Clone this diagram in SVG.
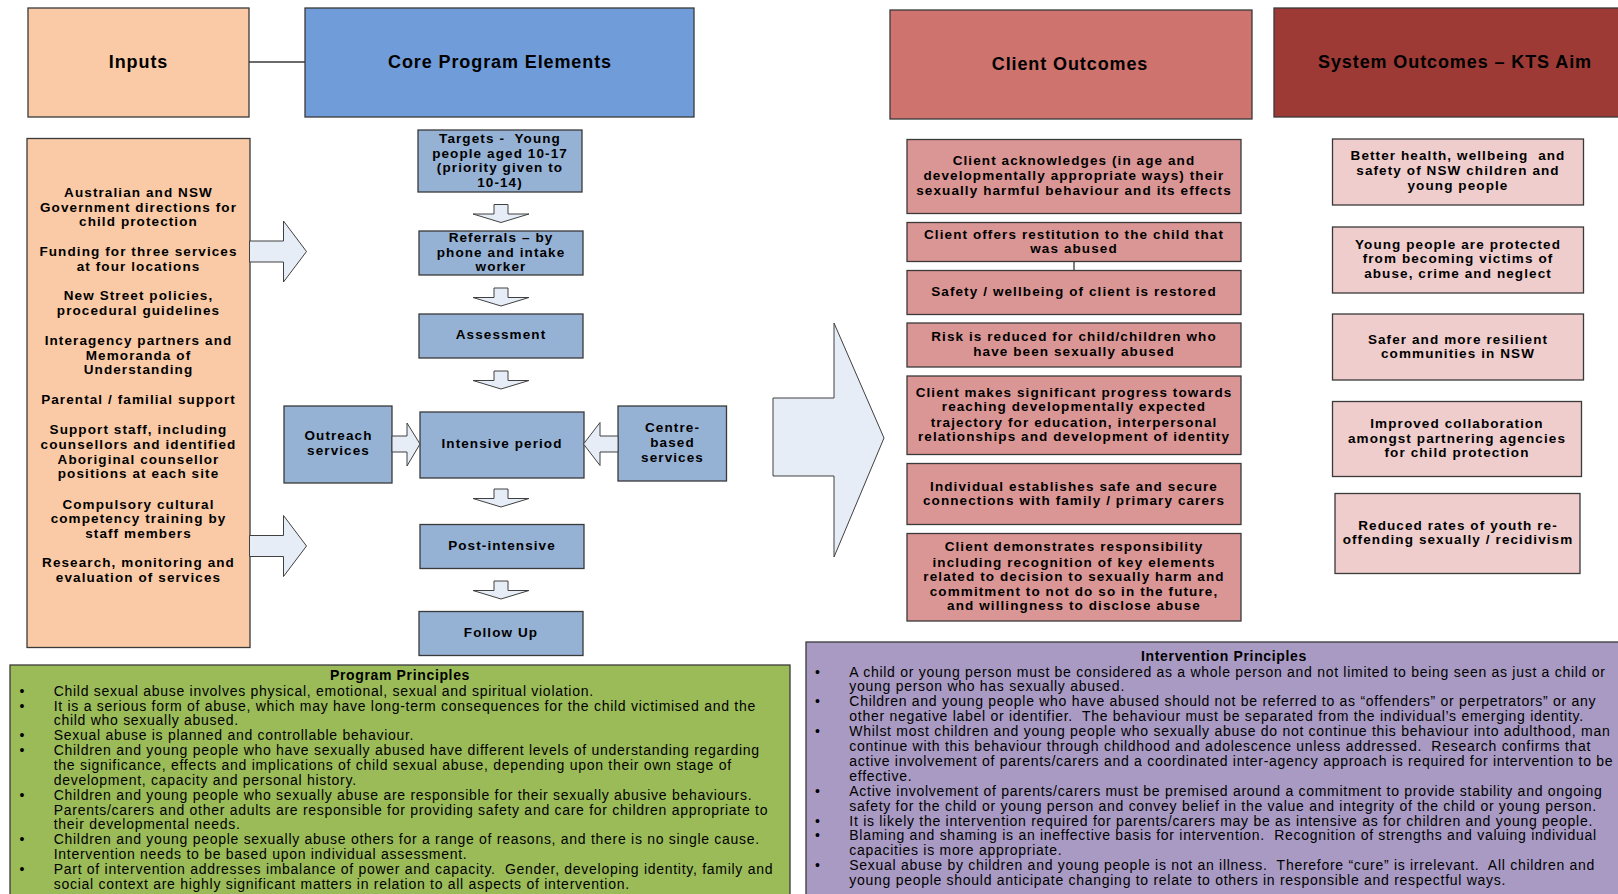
<svg xmlns="http://www.w3.org/2000/svg" width="1618" height="894" viewBox="0 0 1618 894">
<style>
text{font-family:"Liberation Sans",Arial,sans-serif;fill:#000}
.hdr{font-size:18px;font-weight:bold;letter-spacing:0.9px;text-anchor:middle}
.b{font-size:13.5px;font-weight:bold;letter-spacing:1.1px;text-anchor:middle}
.ttl{font-size:14px;font-weight:bold;letter-spacing:0.65px;text-anchor:middle}
.body{font-size:14px;letter-spacing:0.72px;white-space:pre}
.box{stroke:#3a3a3a;stroke-width:1.3}
.inp{fill:#F9CAA5}
.core{fill:#709DD9}
.cb{fill:#95B1D3}
.co{fill:#CE736D}
.cob{fill:#DA9694}
.so{fill:#9D3A36}
.sob{fill:#EECDCC}
.pp{fill:#9BBB59}
.ip{fill:#A89AC2}
.arr{fill:#E6EDF7;stroke:#404040;stroke-width:1}
.ln{stroke:#3a3a3a;stroke-width:1.3;fill:none}
</style>
<defs>
<polygon id="dArrow" class="arr" points="-7,0 7,0 7,9.5 28,9.5 0,18 -28,9.5 -7,9.5"/>
<polygon id="rArrow" class="arr" points="0,20 34,20 34,0 57,30.5 34,61 34,41 0,41"/>
</defs>

<g id="inputs-header">
<rect class="box inp" x="28" y="8" width="221" height="109"/>
<text class="hdr" x="138.5" y="68">Inputs</text>
</g>
<g id="core-header">
<rect class="box core" x="305" y="8" width="389" height="109"/>
<text class="hdr" x="500" y="68">Core Program Elements</text>
</g>
<g id="client-header">
<rect class="box co" x="890" y="10" width="362" height="109"/>
<text class="hdr" x="1070" y="70">Client Outcomes</text>
</g>
<g id="system-header">
<rect class="box so" x="1274" y="8" width="345" height="109"/>
<text class="hdr" x="1455" y="68">System Outcomes – KTS Aim</text>
</g>

<g id="inputs">
<rect class="box inp" x="27" y="138.5" width="223" height="509"/>
<text class="b" x="138.5" y="196.5">Australian and NSW</text>
<text class="b" x="138.5" y="211.5">Government directions for</text>
<text class="b" x="138.5" y="226">child protection</text>
<text class="b" x="138.5" y="255.5">Funding for three services</text>
<text class="b" x="138.5" y="270.5">at four locations</text>
<text class="b" x="138.5" y="300">New Street policies,</text>
<text class="b" x="138.5" y="315">procedural guidelines</text>
<text class="b" x="138.5" y="345">Interagency partners and</text>
<text class="b" x="138.5" y="359.5">Memoranda of</text>
<text class="b" x="138.5" y="374">Understanding</text>
<text class="b" x="138.5" y="404">Parental / familial support</text>
<text class="b" x="138.5" y="434">Support staff, including</text>
<text class="b" x="138.5" y="448.5">counsellors and identified</text>
<text class="b" x="138.5" y="463.5">Aboriginal counsellor</text>
<text class="b" x="138.5" y="478">positions at each site</text>
<text class="b" x="138.5" y="508.5">Compulsory cultural</text>
<text class="b" x="138.5" y="523">competency training by</text>
<text class="b" x="138.5" y="538">staff members</text>
<text class="b" x="138.5" y="567">Research, monitoring and</text>
<text class="b" x="138.5" y="582">evaluation of services</text>
</g>

<g id="targets">
<rect class="box cb" x="418" y="130" width="164" height="62"/>
<text class="b" x="500" y="142.8" style="white-space:pre">Targets -  Young</text>
<text class="b" x="500" y="157.6">people aged 10-17</text>
<text class="b" x="500" y="172.4">(priority given to</text>
<text class="b" x="500" y="186.8">10-14)</text>
</g>
<g id="referrals">
<rect class="box cb" x="419" y="231" width="164" height="44"/>
<text class="b" x="501" y="242">Referrals – by</text>
<text class="b" x="501" y="256.7">phone and intake</text>
<text class="b" x="501" y="271.1">worker</text>
</g>
<g id="assessment">
<rect class="box cb" x="419" y="314" width="164" height="44"/>
<text class="b" x="501" y="339.2">Assessment</text>
</g>
<g id="intensive">
<rect class="box cb" x="420" y="412" width="164" height="66"/>
<text class="b" x="502" y="448.3">Intensive period</text>
</g>
<g id="outreach">
<rect class="box cb" x="284" y="406" width="108" height="77"/>
<text class="b" x="338.5" y="440.3">Outreach</text>
<text class="b" x="338.5" y="455.1">services</text>
</g>
<g id="centre">
<rect class="box cb" x="618" y="406" width="108.5" height="75"/>
<text class="b" x="672.5" y="432.1">Centre-</text>
<text class="b" x="672.5" y="447.2">based</text>
<text class="b" x="672.5" y="462">services</text>
</g>
<g id="post-intensive">
<rect class="box cb" x="420" y="524.5" width="164" height="44"/>
<text class="b" x="502" y="550.1">Post-intensive</text>
</g>
<g id="follow-up">
<rect class="box cb" x="419" y="611.5" width="164" height="44"/>
<text class="b" x="501" y="636.8">Follow Up</text>
</g>

<g id="client-outcomes">
<g id="co1"><rect class="box cob" x="907" y="139.5" width="334" height="74"/>
<text class="b" x="1074" y="164.5">Client acknowledges (in age and</text>
<text class="b" x="1074" y="179.5">developmentally appropriate ways) their</text>
<text class="b" x="1074" y="195.2">sexually harmful behaviour and its effects</text></g>
<g id="co2"><rect class="box cob" x="907" y="222.5" width="334" height="39"/>
<text class="b" x="1074" y="238.5">Client offers restitution to the child that</text>
<text class="b" x="1074" y="252.8">was abused</text></g>
<g id="co3"><rect class="box cob" x="907" y="270.5" width="334" height="44"/>
<text class="b" x="1074" y="296.2">Safety / wellbeing of client is restored</text></g>
<g id="co4"><rect class="box cob" x="907" y="323" width="334" height="44"/>
<text class="b" x="1074" y="341.2">Risk is reduced for child/children who</text>
<text class="b" x="1074" y="356.2">have been sexually abused</text></g>
<g id="co5"><rect class="box cob" x="907" y="376" width="334" height="78.5"/>
<text class="b" x="1074" y="396.5">Client makes significant progress towards</text>
<text class="b" x="1074" y="411.2">reaching developmentally expected</text>
<text class="b" x="1074" y="426.5">trajectory for education, interpersonal</text>
<text class="b" x="1074" y="440.8">relationships and development of identity</text></g>
<g id="co6"><rect class="box cob" x="907" y="463.5" width="334" height="61"/>
<text class="b" x="1074" y="490.5">Individual establishes safe and secure</text>
<text class="b" x="1074" y="504.8">connections with family / primary carers</text></g>
<g id="co7"><rect class="box cob" x="907" y="533.5" width="334" height="87.5"/>
<text class="b" x="1074" y="551.2">Client demonstrates responsibility</text>
<text class="b" x="1074" y="566.5">including recognition of key elements</text>
<text class="b" x="1074" y="580.5">related to decision to sexually harm and</text>
<text class="b" x="1074" y="595.5">commitment to not do so in the future,</text>
<text class="b" x="1074" y="610.2">and willingness to disclose abuse</text></g>
</g>

<g id="system-outcomes">
<g id="so1"><rect class="box sob" x="1332.5" y="139" width="251" height="66"/>
<text class="b" x="1458" y="160.2" style="white-space:pre">Better health, wellbeing  and</text>
<text class="b" x="1458" y="175.2">safety of NSW children and</text>
<text class="b" x="1458" y="190.2">young people</text></g>
<g id="so2"><rect class="box sob" x="1332.5" y="227" width="251" height="66"/>
<text class="b" x="1458" y="248.5">Young people are protected</text>
<text class="b" x="1458" y="263.2">from becoming victims of</text>
<text class="b" x="1458" y="278.2">abuse, crime and neglect</text></g>
<g id="so3"><rect class="box sob" x="1332.5" y="314" width="251" height="66"/>
<text class="b" x="1458" y="343.5">Safer and more resilient</text>
<text class="b" x="1458" y="357.8">communities in NSW</text></g>
<g id="so4"><rect class="box sob" x="1332.5" y="401.5" width="249" height="75"/>
<text class="b" x="1457" y="428.2">Improved collaboration</text>
<text class="b" x="1457" y="442.8">amongst partnering agencies</text>
<text class="b" x="1457" y="457.2">for child protection</text></g>
<g id="so5"><rect class="box sob" x="1335" y="493.5" width="245" height="80"/>
<text class="b" x="1458" y="529.5">Reduced rates of youth re-</text>
<text class="b" x="1458" y="543.8">offending sexually / recidivism</text></g>
</g>

<g id="connectors">
<line class="ln" x1="249" y1="62" x2="305" y2="62"/>
<line class="ln" x1="1074" y1="261.5" x2="1074" y2="270.5"/>
<use href="#rArrow" x="249.5" y="221"/>
<use href="#rArrow" x="249.5" y="515.5"/>
<use href="#dArrow" x="501" y="204.5"/>
<use href="#dArrow" x="501" y="288"/>
<use href="#dArrow" x="501" y="371"/>
<use href="#dArrow" x="501" y="489"/>
<use href="#dArrow" x="501" y="581"/>
<polygon class="arr" points="392,436 407,436 407,423 420,444 407,466 407,452 392,452"/>
<polygon class="arr" points="618,436 600,436 600,422.5 583.5,444 600,465.5 600,452 618,452"/>
<polygon class="arr" points="773,398 834,398 834,323 884,438 834,557 834,476 773,476"/>
</g>

<g id="program-principles">
<rect class="box pp" x="10" y="665" width="780" height="240"/>
<text class="ttl" x="400" y="680.4">Program Principles</text>
<g class="body">
<text class="body" x="19.5" y="695.7">•</text><text class="body" x="53.7" y="695.7">Child sexual abuse involves physical, emotional, sexual and spiritual violation.</text>
<text class="body" x="19.5" y="710.5">•</text><text class="body" x="53.7" y="710.5">It is a serious form of abuse, which may have long-term consequences for the child victimised and the</text>
<text class="body" x="53.7" y="725.4">child who sexually abused.</text>
<text class="body" x="19.5" y="740.2">•</text><text class="body" x="53.7" y="740.2">Sexual abuse is planned and controllable behaviour.</text>
<text class="body" x="19.5" y="755.1">•</text><text class="body" x="53.7" y="755.1">Children and young people who have sexually abused have different levels of understanding regarding</text>
<text class="body" x="53.7" y="769.9">the significance, effects and implications of child sexual abuse, depending upon their own stage of</text>
<text class="body" x="53.7" y="784.8">development, capacity and personal history.</text>
<text class="body" x="19.5" y="799.6">•</text><text class="body" x="53.7" y="799.6">Children and young people who sexually abuse are responsible for their sexually abusive behaviours.</text>
<text class="body" x="53.7" y="814.5">Parents/carers and other adults are responsible for providing safety and care for children appropriate to</text>
<text class="body" x="53.7" y="829.3">their developmental needs.</text>
<text class="body" x="19.5" y="844.2">•</text><text class="body" x="53.7" y="844.2">Children and young people sexually abuse others for a range of reasons, and there is no single cause.</text>
<text class="body" x="53.7" y="859">Intervention needs to be based upon individual assessment.</text>
<text class="body" x="19.5" y="873.9">•</text><text class="body" x="53.7" y="873.9">Part of intervention addresses imbalance of power and capacity.  Gender, developing identity, family and</text>
<text class="body" x="53.7" y="888.7">social context are highly significant matters in relation to all aspects of intervention.</text>
</g>
</g>

<g id="intervention-principles">
<rect class="box ip" x="806" y="642" width="820" height="260"/>
<text class="ttl" x="1224" y="661">Intervention Principles</text>
<text class="body" x="815" y="676.5">•</text><text class="body" x="849.3" y="676.5">A child or young person must be considered as a whole person and not limited to being seen as just a child or</text>
<text class="body" x="849.3" y="691.4">young person who has sexually abused.</text>
<text class="body" x="815" y="706.3">•</text><text class="body" x="849.3" y="706.3">Children and young people who have abused should not be referred to as “offenders” or perpetrators” or any</text>
<text class="body" x="849.3" y="721.2">other negative label or identifier.  The behaviour must be separated from the individual’s emerging identity.</text>
<text class="body" x="815" y="736.1">•</text><text class="body" x="849.3" y="736.1">Whilst most children and young people who sexually abuse do not continue this behaviour into adulthood, man</text>
<text class="body" x="849.3" y="751">continue with this behaviour through childhood and adolescence unless addressed.  Research confirms that</text>
<text class="body" x="849.3" y="765.9">active involvement of parents/carers and a coordinated inter-agency approach is required for intervention to be</text>
<text class="body" x="849.3" y="780.8">effective.</text>
<text class="body" x="815" y="795.7">•</text><text class="body" x="849.3" y="795.7">Active involvement of parents/carers must be premised around a commitment to provide stability and ongoing</text>
<text class="body" x="849.3" y="810.6">safety for the child or young person and convey belief in the value and integrity of the child or young person.</text>
<text class="body" x="815" y="825.5">•</text><text class="body" x="849.3" y="825.5">It is likely the intervention required for parents/carers may be as intensive as for children and young people.</text>
<text class="body" x="815" y="840.4">•</text><text class="body" x="849.3" y="840.4">Blaming and shaming is an ineffective basis for intervention.  Recognition of strengths and valuing individual</text>
<text class="body" x="849.3" y="855.3">capacities is more appropriate.</text>
<text class="body" x="815" y="870.2">•</text><text class="body" x="849.3" y="870.2">Sexual abuse by children and young people is not an illness.  Therefore “cure” is irrelevant.  All children and</text>
<text class="body" x="849.3" y="885.1">young people should anticipate changing to relate to others in responsible and respectful ways.</text>
</g>
</svg>
